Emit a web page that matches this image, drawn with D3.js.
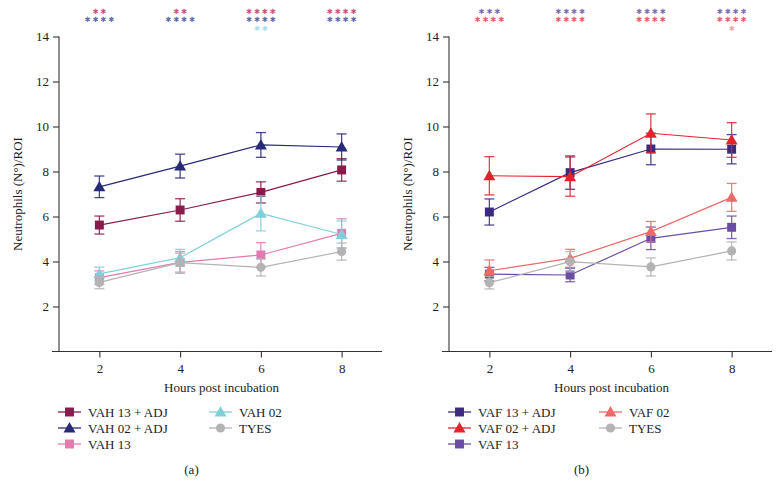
<!DOCTYPE html>
<html>
<head>
<meta charset="utf-8">
<script src="https://cdn.jsdelivr.net/npm/d3@7"></script>
<style>
  html, body { margin: 0; padding: 0; background: #fff; }
  svg { display: block; font-family: "Liberation Serif", "DejaVu Serif", serif; }
</style>
</head>
<body>
<svg id="chart" width="780" height="484"></svg>
<script>
// ---------- DATA ----------
const hours = [2, 4, 6, 8];
const yTicks = [2, 4, 6, 8, 10, 12, 14];

// Panel (a)
const namesA = ["VAH 13 + ADJ", "VAH 02 + ADJ", "VAH 13", "VAH 02", "TYES"];
const vah13adj = [5.62, 6.29, 7.07, 8.07];
const vah13adjErr = [0.40, 0.50, 0.47, 0.50];
const vah02adj = [7.32, 8.24, 9.18, 9.09];
const vah02adjErr = [0.48, 0.53, 0.55, 0.58];
const vah13 = [3.28, 3.96, 4.29, 5.25];
const vah13Err = [0.30, 0.48, 0.55, 0.65];
const vah02 = [3.45, 4.17, 6.14, 5.20];
const vah02Err = [0.30, 0.37, 0.78, 0.60];
const tyesA = [3.07, 3.95, 3.74, 4.44];
const tyesAErr = [0.28, 0.42, 0.38, 0.38];
const starsA1 = ["**", "**", "****", "****"];
const starsA2 = ["****", "****", "****", "****"];
const starsA3 = ["", "", "**", ""];

// Panel (b)
const namesB = ["VAF 13 + ADJ", "VAF 02 + ADJ", "VAF 13", "VAF 02", "TYES"];
const vaf13adj = [6.20, 7.95, 9.00, 8.99];
const vaf13adjErr = [0.58, 0.74, 0.70, 0.65];
const vaf02adj = [7.81, 7.77, 9.70, 9.40];
const vaf02adjErr = [0.85, 0.87, 0.86, 0.77];
const vaf13 = [3.44, 3.40, 5.03, 5.52];
const vaf13Err = [0.30, 0.30, 0.50, 0.50];
const vaf02 = [3.59, 4.14, 5.33, 6.85];
const vaf02Err = [0.48, 0.40, 0.45, 0.62];
const tyesB = [3.06, 3.99, 3.76, 4.47];
const tyesBErr = [0.28, 0.45, 0.40, 0.40];
const starsB1 = ["***", "****", "****", "****"];
const starsB2 = ["****", "****", "****", "****"];
const starsB3 = ["", "", "", "*"];

// ---------- STYLE ----------
const colorsA = ["#8a1a4c", "#262a78", "#e47ab0", "#80d0dc", "#b3b3b3"];
const colorsB = ["#3b2a80", "#e2232e", "#6a4ea6", "#ee6a6a", "#b3b3b3"];
const starColorsA = ["#c4557a", "#6268aa", "#a9dcef"];
const starColorsB = ["#7d6bb3", "#ea5b68", "#f3a3aa"];
const shapes = [d3.symbolSquare, d3.symbolTriangle, d3.symbolSquare, d3.symbolTriangle, d3.symbolCircle];
const shapeSizes = [80, 62, 80, 62, 66];

const panels = [
  { x0: 59, x1: 382, label: "(a)", names: namesA, colors: colorsA, starColors: starColorsA,
    series: [[vah13adj, vah13adjErr], [vah02adj, vah02adjErr], [vah13, vah13Err], [vah02, vah02Err], [tyesA, tyesAErr]],
    stars: [starsA1, starsA2, starsA3] },
  { x0: 449, x1: 772, label: "(b)", names: namesB, colors: colorsB, starColors: starColorsB,
    series: [[vaf13adj, vaf13adjErr], [vaf02adj, vaf02adjErr], [vaf13, vaf13Err], [vaf02, vaf02Err], [tyesB, tyesBErr]],
    stars: [starsB1, starsB2, starsB3] }
];

const svg = d3.select("#chart");
const yTop = 36.5, yBot = 351.5;
const y = d3.scaleLinear().domain([0, 14]).range([yBot, yTop]);
const axisColor = "#333";

panels.forEach(p => {
  const x = d3.scaleLinear().domain([1, 9]).range([p.x0, p.x1]);
  const g = svg.append("g");

  // Y axis
  const yAxis = d3.axisLeft(y).tickValues(yTicks).tickSize(6).tickPadding(4).tickSizeOuter(0);
  const ya = g.append("g").attr("transform", `translate(${p.x0},0)`).call(yAxis);
  ya.select(".domain").attr("d", `M0,${yTop}V${yBot}`);
  // X axis
  const xAxis = d3.axisBottom(x).tickValues(hours).tickSize(6).tickPadding(6).tickSizeOuter(0);
  const xa = g.append("g").attr("transform", `translate(0,${yBot})`).call(xAxis);
  xa.select(".domain").attr("d", `M${p.x0 - 7},0H${p.x1}`);
  [ya, xa].forEach(a => {
    a.selectAll("path, line").attr("stroke", axisColor).attr("stroke-width", 1.1);
    a.selectAll("text").attr("fill", "#222").style("font-size", "13px")
      .style("font-family", "'Liberation Serif', serif");
  });

  // Axis titles
  g.append("text").attr("x", (p.x0 + p.x1) / 2 + 1).attr("y", 392)
    .attr("text-anchor", "middle").style("font-size", "13px").attr("fill", "#222")
    .text("Hours post incubation");
  g.append("text")
    .attr("transform", `translate(${p.x0 - 37},${(yTop + yBot) / 2}) rotate(-90)`)
    .attr("text-anchor", "middle").style("font-size", "13px").attr("fill", "#222")
    .text("Neutrophils (N°)/ROI");

  // Series
  p.series.forEach((s, i) => {
    const [vals, errs] = s;
    const col = p.colors[i];
    const pts = hours.map((h, k) => ({ h, v: vals[k], e: errs[k] }));
    const sg = g.append("g");
    // error bars
    pts.forEach(d => {
      const cx = x(d.h);
      sg.append("line").attr("x1", cx).attr("x2", cx).attr("y1", y(d.v + d.e)).attr("y2", y(d.v - d.e))
        .attr("stroke", col).attr("stroke-width", 1.3).attr("opacity", 0.85);
      [d.v + d.e, d.v - d.e].forEach(vv => {
        sg.append("line").attr("x1", cx - 5).attr("x2", cx + 5).attr("y1", y(vv)).attr("y2", y(vv))
          .attr("stroke", col).attr("stroke-width", 1.3).attr("opacity", 0.85);
      });
    });
    // line
    sg.append("path").datum(pts)
      .attr("d", d3.line().x(d => x(d.h)).y(d => y(d.v)))
      .attr("fill", "none").attr("stroke", col).attr("stroke-width", 1.2);
    // markers
    const sym = d3.symbol().type(shapes[i]).size(shapeSizes[i]);
    sg.selectAll(".m").data(pts).enter().append("path")
      .attr("transform", d => `translate(${x(d.h)},${y(d.v) + (shapes[i] === d3.symbolTriangle ? 1 : 0)})`)
      .attr("d", sym).attr("fill", col);
  });

  // Significance stars (compact font so stacked rows do not collide)
  const rowY = [13.5, 22, 30.5];
  p.stars.forEach((row, r) => {
    row.forEach((str, k) => {
      if (!str) return;
      g.append("text").attr("x", x(hours[k]) + 1).attr("y", rowY[r])
        .attr("text-anchor", "middle").attr("fill", p.starColors[r])
        .style("font-size", "7.2px").style("letter-spacing", "1.9px")
        .style("font-family", "'DejaVu Sans', sans-serif")
        .text(str.replace(/\*/g, "\u2731"));
    });
  });

  // Legend
  const legPos = [[0, 0], [0, 1], [0, 2], [1, 0], [1, 1]];
  p.names.forEach((name, i) => {
    const [c, r] = legPos[i];
    const lx = p.x0 - 1 + c * 151;
    const ly = 412 + r * 16;
    const col = p.colors[i];
    g.append("line").attr("x1", lx).attr("x2", lx + 23).attr("y1", ly).attr("y2", ly)
      .attr("stroke", col).attr("stroke-width", 1.3);
    g.append("path").attr("transform", `translate(${lx + 11.5},${ly + (shapes[i] === d3.symbolTriangle ? 1 : 0)})`)
      .attr("d", d3.symbol().type(shapes[i]).size(shapeSizes[i])).attr("fill", col);
    g.append("text").attr("x", lx + 30).attr("y", ly + 4.5)
      .style("font-size", "13px").attr("fill", "#222").text(name);
  });

  // Panel label
  g.append("text").attr("x", (p.x0 + p.x1) / 2 - 29).attr("y", 474)
    .attr("text-anchor", "middle").style("font-size", "13px").attr("fill", "#222").text(p.label);
});
</script>
</body>
</html>
